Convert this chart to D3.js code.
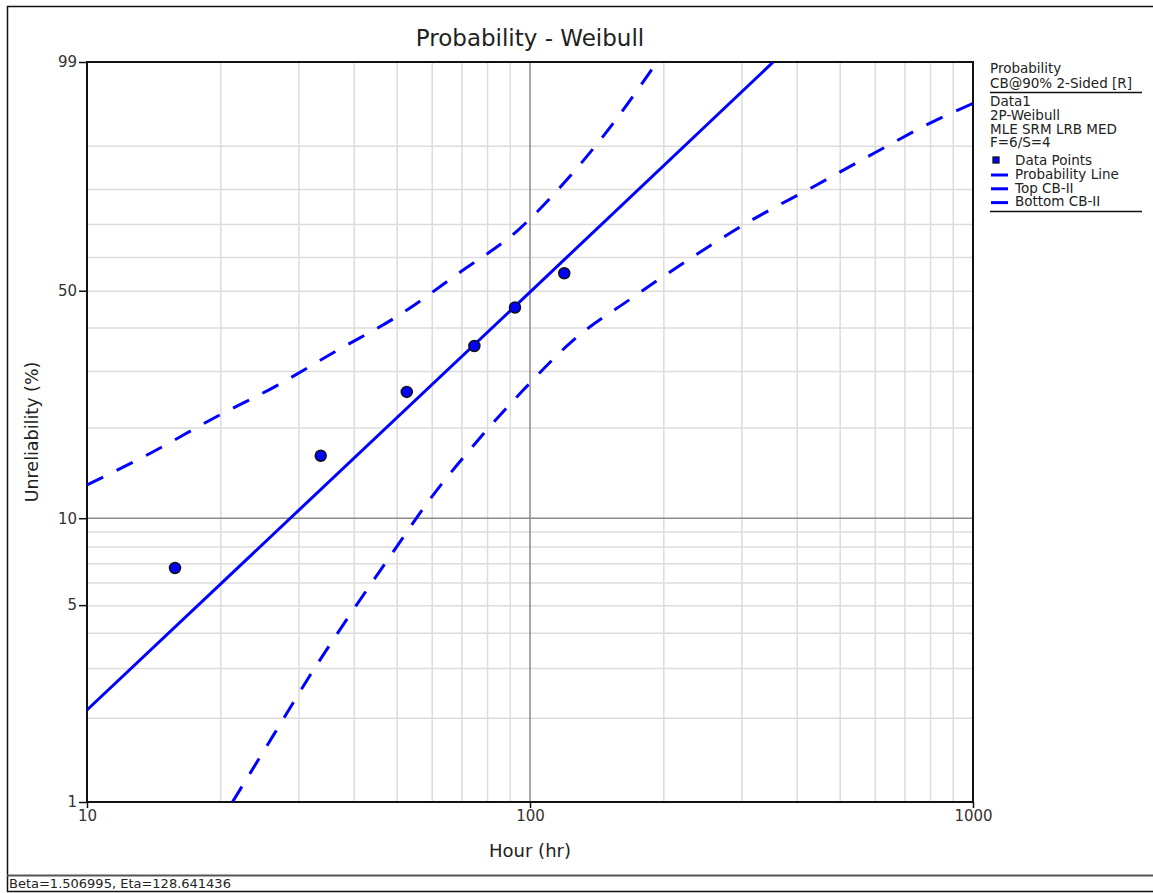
<!DOCTYPE html>
<html>
<head>
<meta charset="utf-8">
<script src="https://d3js.org/d3.v7.min.js"></script>
<style>
  body { margin: 0; background: #fff; }
  text { font-family: "DejaVu Sans", Verdana, sans-serif; }
</style>
</head>
<body>
<script>
// data
const pointHours = [15.8, 33.7, 52.7, 74.9, 92.5, 119.5];
const pointUnrel = [6.74, 16.2, 25.9, 35.5, 45.3, 55.1];

const lineHours = [10, 100, 354];
const lineUnrel = [2.13, 49.6, 99];

const topHours = [10, 14.0, 19.4, 26.7, 36.6, 50.3, 69.0, 94.0, 122.9, 153.9, 193.5];
const topUnrel = [12.96, 16.6, 21.5, 27.0, 34.4, 43.0, 55.1, 68.2, 83.2, 93.7, 99];

const botHours = [21.3, 26.4, 32.3, 39.2, 48.9, 59.2, 75.3, 96.7, 125.3, 169.8, 230.3, 312.2, 436.3, 597.5, 826, 1000];
const botUnrel = [1, 1.74, 2.92, 4.62, 7.59, 11.5, 17.8, 26.3, 36.9, 47.9, 59.6, 70.7, 80.6, 88.5, 94.2, 96.2];

const xTicks = [10, 100, 1000];
const yTicks = [1, 5, 10, 50, 99];
const xGrid = [20, 30, 40, 50, 60, 70, 80, 90, 200, 300, 400, 500, 600, 700, 800, 900];
const yGrid = [2, 3, 4, 5, 6, 7, 8, 9, 20, 30, 40, 50, 60, 70, 80, 90];

const legendInfo = ["Data1", "2P-Weibull", "MLE SRM LRB MED", "F=6/S=4"];
const legendItems = ["Data Points", "Probability Line", "Top CB-II", "Bottom CB-II"];

const width = 1153, height = 893;
const margin = {top: 62, right: 180, bottom: 91, left: 87};

const svg = d3.select("body").append("svg")
    .attr("width", width)
    .attr("height", height);

// weibull probability transform
const wb = p => Math.log(-Math.log(1 - p / 100));

const x = d3.scaleLog()
    .domain([10, 1000])
    .range([margin.left, width - margin.right]);

const yLin = d3.scaleLinear()
    .domain([wb(1), wb(99)])
    .range([height - margin.bottom, margin.top]);
const y = p => yLin(wb(p));

const x0 = margin.left, x1 = width - margin.right;
const y0 = height - margin.bottom, y1 = margin.top;

// outer frame and status bar
svg.append("path")
    .attr("d", `M${width},6.5H7.5V891.5H${width}`)
    .attr("fill", "none").attr("stroke", "#111").attr("stroke-width", 1.5);
svg.append("line")
    .attr("x1", 7).attr("x2", width).attr("y1", 875.5).attr("y2", 875.5)
    .attr("stroke", "#555").attr("stroke-width", 2);
svg.append("text")
    .attr("x", 9).attr("y", 888)
    .attr("font-size", 13).attr("fill", "#222")
    .text("Beta=1.506995, Eta=128.641436");

// grid
const grid = svg.append("g");
grid.append("g")
    .attr("transform", `translate(0,${y0})`)
    .call(d3.axisBottom(x).tickValues(xGrid).tickSize(-(y0 - y1)).tickFormat(""))
    .call(g => g.select(".domain").remove())
    .call(g => g.selectAll("line").attr("stroke", "#dcdcdc").attr("stroke-width", 1.5));
grid.append("g")
    .attr("transform", `translate(${x0},0)`)
    .call(d3.axisLeft(yLin).tickValues(yGrid.map(wb)).tickSize(-(x1 - x0)).tickFormat(""))
    .call(g => g.select(".domain").remove())
    .call(g => g.selectAll("line").attr("stroke", "#dcdcdc").attr("stroke-width", 1.5));
grid.append("line")
    .attr("x1", x(100)).attr("x2", x(100)).attr("y1", y1).attr("y2", y0)
    .attr("stroke", "#8c8c8c").attr("stroke-width", 1.5);
grid.append("line")
    .attr("x1", x0).attr("x2", x1).attr("y1", y(10)).attr("y2", y(10))
    .attr("stroke", "#8c8c8c").attr("stroke-width", 1.5);

// axes
svg.append("g")
    .attr("transform", `translate(0,${y0})`)
    .call(d3.axisBottom(x).tickValues(xTicks).tickSize(6).tickPadding(2).tickFormat(d3.format("d")))
    .call(g => g.select(".domain").remove())
    .call(g => g.selectAll("line").attr("stroke", "#111").attr("stroke-width", 1.5))
    .call(g => g.selectAll("text").attr("font-size", 15).attr("fill", "#333")
        .attr("font-family", "DejaVu Sans"));

svg.append("g")
    .attr("transform", `translate(${x0},0)`)
    .call(d3.axisLeft(yLin).tickValues(yTicks.map(wb)).tickSize(8).tickPadding(2)
        .tickFormat((d, i) => yTicks[i]))
    .call(g => g.select(".domain").remove())
    .call(g => g.selectAll("line").attr("stroke", "#111").attr("stroke-width", 1.5))
    .call(g => g.selectAll("text").attr("font-size", 15).attr("fill", "#333")
        .attr("font-family", "DejaVu Sans"));

svg.append("rect")
    .attr("x", x0).attr("y", y1).attr("width", x1 - x0).attr("height", y0 - y1)
    .attr("fill", "none").attr("stroke", "#111").attr("stroke-width", 2);

// curves
svg.append("clipPath").attr("id", "plot")
  .append("rect").attr("x", x0).attr("y", y1).attr("width", x1 - x0).attr("height", y0 - y1);

const line = d3.line().x(d => x(d[0])).y(d => y(d[1])).curve(d3.curveMonotoneX);
const plot = svg.append("g").attr("clip-path", "url(#plot)");

plot.append("path")
    .datum(d3.zip(topHours, topUnrel))
    .attr("d", line)
    .attr("fill", "none").attr("stroke", "#0000ff").attr("stroke-width", 3)
    .attr("stroke-dasharray", "18,15");
plot.append("path")
    .datum(d3.zip(botHours, botUnrel))
    .attr("d", line)
    .attr("fill", "none").attr("stroke", "#0000ff").attr("stroke-width", 3)
    .attr("stroke-dasharray", "18,15");
plot.append("path")
    .datum(d3.zip(lineHours, lineUnrel))
    .attr("d", d3.line().x(d => x(d[0])).y(d => y(d[1])))
    .attr("fill", "none").attr("stroke", "#0000ff").attr("stroke-width", 3);

plot.selectAll("circle")
    .data(d3.zip(pointHours, pointUnrel))
    .join("circle")
    .attr("cx", d => x(d[0]))
    .attr("cy", d => y(d[1]))
    .attr("r", 5.5)
    .attr("fill", "#0000ff")
    .attr("stroke", "#111").attr("stroke-width", 1.5);

// titles
svg.append("text")
    .attr("x", (x0 + x1) / 2).attr("y", 46)
    .attr("text-anchor", "middle").attr("font-size", 23).attr("fill", "#222")
    .text("Probability - Weibull");
svg.append("text")
    .attr("x", (x0 + x1) / 2).attr("y", 857)
    .attr("text-anchor", "middle").attr("font-size", 18).attr("fill", "#222")
    .text("Hour (hr)");
svg.append("text")
    .attr("transform", `translate(38,${(y0 + y1) / 2}) rotate(-90)`)
    .attr("text-anchor", "middle").attr("font-size", 17.5).attr("fill", "#222")
    .text("Unreliability (%)");

// legend
const lg = svg.append("g").attr("font-size", 13.5).attr("fill", "#222");
const lx = 990, lx2 = 1142;
lg.append("text").attr("x", lx).attr("y", 73).text("Probability");
lg.append("text").attr("x", lx).attr("y", 88).text("CB@90% 2-Sided [R]");
lg.append("line").attr("x1", lx).attr("x2", lx2).attr("y1", 92.5).attr("y2", 92.5)
    .attr("stroke", "#111").attr("stroke-width", 1.3);
lg.selectAll(".info")
    .data(legendInfo)
    .join("text")
    .attr("x", lx).attr("y", (d, i) => 106 + i * 13.8)
    .text(d => d);
lg.selectAll(".item")
    .data(legendItems)
    .join("text")
    .attr("x", 1015).attr("y", (d, i) => 165 + i * 13.8)
    .text(d => d);
lg.append("rect")
    .attr("x", 996 - 3).attr("y", 160 - 3).attr("width", 6).attr("height", 6)
    .attr("fill", "#0000ff").attr("stroke", "#111").attr("stroke-width", 1.3);
lg.selectAll(".sample")
    .data(legendItems.slice(1))
    .join("line")
    .attr("x1", 991).attr("x2", 1008)
    .attr("y1", (d, i) => 175 + i * 13.8).attr("y2", (d, i) => 175 + i * 13.8)
    .attr("stroke", "#0000ff").attr("stroke-width", 3);
lg.append("line").attr("x1", lx).attr("x2", lx2).attr("y1", 211.5).attr("y2", 211.5)
    .attr("stroke", "#111").attr("stroke-width", 1.3);
</script>
</body>
</html>
